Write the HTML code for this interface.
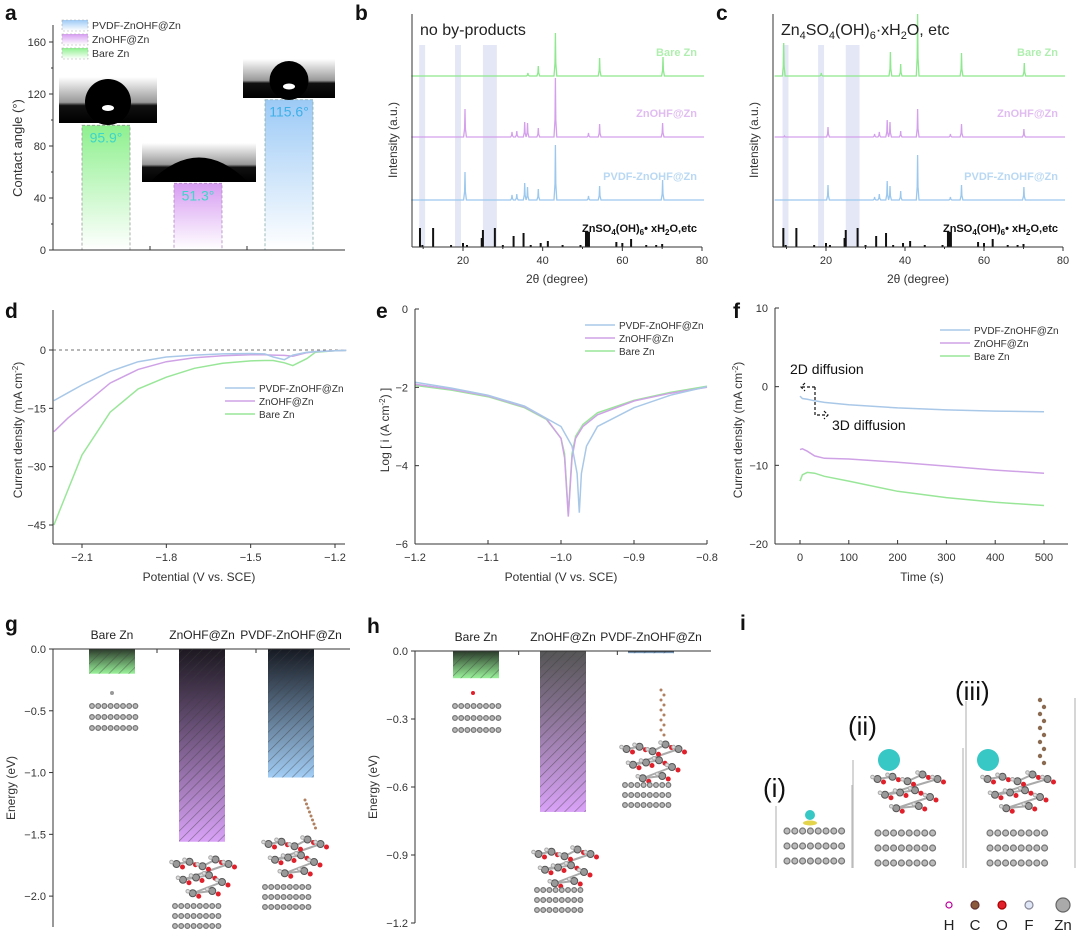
<!DOCTYPE html>
<html><head><meta charset="utf-8"><style>
body{margin:0;background:#fff}
svg{display:block;font-family:"Liberation Sans",sans-serif}
</style></head><body>
<svg id="fig" width="1080" height="938" viewBox="0 0 1080 938" xmlns="http://www.w3.org/2000/svg">
<defs>
<linearGradient id="gGreen" x1="0" y1="1" x2="0" y2="0"><stop offset="0" stop-color="#fff"/><stop offset="1" stop-color="#8ef08e"/></linearGradient>
<linearGradient id="gPurple" x1="0" y1="1" x2="0" y2="0"><stop offset="0" stop-color="#fff"/><stop offset="1" stop-color="#d79cf2"/></linearGradient>
<linearGradient id="gBlue" x1="0" y1="1" x2="0" y2="0"><stop offset="0" stop-color="#fff"/><stop offset="1" stop-color="#9ccaf6"/></linearGradient>
<linearGradient id="photo" x1="0" y1="0" x2="0" y2="1"><stop offset="0" stop-color="#fff"/><stop offset="0.55" stop-color="#999"/><stop offset="0.62" stop-color="#111"/><stop offset="1" stop-color="#000"/></linearGradient>
<linearGradient id="hGreen" x1="0" y1="0" x2="0" y2="1"><stop offset="0" stop-color="#2a3a2a"/><stop offset="1" stop-color="#9af29a"/></linearGradient>
<linearGradient id="hPurple" x1="0" y1="0" x2="0" y2="1"><stop offset="0" stop-color="#1c1820"/><stop offset="1" stop-color="#d9a2f7"/></linearGradient>
<linearGradient id="hBlue" x1="0" y1="0" x2="0" y2="1"><stop offset="0" stop-color="#161a22"/><stop offset="1" stop-color="#a2cdf5"/></linearGradient>
<linearGradient id="hGrayP" x1="0" y1="0" x2="0" y2="1"><stop offset="0" stop-color="#555"/><stop offset="1" stop-color="#d9a2f7"/></linearGradient>
<pattern id="hatch" width="7" height="7" patternUnits="userSpaceOnUse" patternTransform="rotate(45)"><line x1="0" y1="0" x2="0" y2="7" stroke="rgba(60,60,60,0.55)" stroke-width="1.3"/></pattern>
</defs>
</svg>
<script>
// ---------- data ----------
const caCategories = ["Bare Zn","ZnOHF@Zn","PVDF-ZnOHF@Zn"];
const caValues = [95.9, 51.3, 115.6];
const caTicks = [0,40,80,120,160];

const xrdTicks = [20,40,60,80];
const bPeaksBarePos = [36.3,38.9,43.2,54.3,70.2];
const bPeaksBareH = [3,10,43,18,19];
const bPeaksZnPos = [20.5,32.3,33.5,35.5,36.2,38.9,43.2,51.5,54.3,70.1];
const bPeaksZnH = [28,5,6,15,14,9,59,4,13,14];
const bPeaksPvPos = [20.5,32.3,33.5,35.5,36.2,38.9,43.2,51.5,54.3,70.1];
const bPeaksPvH = [28,5,6,17,13,11,55,4,14,20];
const cPeaksBarePos = [9.3,18.8,36.3,38.9,43.2,54.3,70.2];
const cPeaksBareH = [33,3,24,12,62,23,13];
const cPeaksZnPos = [9.5,20.5,32.3,33.5,35.5,36.2,38.9,43.2,51.5,54.3,70.1];
const cPeaksZnH = [1,10,3,5,17,15,6,28,3,13,8];
const cPeaksPvPos = [20.5,32.3,33.5,35.5,36.2,38.9,43.2,51.5,54.3,70.1];
const cPeaksPvH = [15,3,6,19,14,9,45,3,15,13];
const refPos = [9.2,9.8,12.5,17,20,21,24.7,25,28,30,32.7,35.2,37,39.5,41.3,45,49.5,51,51.5,58.5,60,62.2,66,68.5,70];
const refH = [19,2,19,2,4,2,9,17,19,2,11,14,2,4,6,2,2,15,15,5,4,8,2,2,3];

const dPot = [-2.2,-2.15,-2.1,-2.0,-1.9,-1.8,-1.7,-1.6,-1.5,-1.45,-1.42,-1.38,-1.35,-1.3,-1.27,-1.2,-1.16];
const dPvdf = [-13,-11,-9,-5.5,-3,-1.8,-1.3,-1.0,-0.9,-1.0,-1.8,-2.5,-1.3,-0.6,-0.4,-0.2,-0.1];
const dZn = [-21,-17.5,-14.5,-8.5,-5,-3,-2,-1.5,-1.2,-1.2,-1.3,-1.4,-1.6,-0.7,-0.4,-0.2,-0.1];
const dBare = [-45,-36,-27,-16,-10,-7,-4.7,-3.4,-2.8,-2.7,-2.7,-3.3,-4.0,-2.2,-0.6,-0.2,-0.1];
const dXTicks = [-2.1,-1.8,-1.5,-1.2];
const dYTicks = [0,-15,-30,-45];

const ePotA = [-1.2,-1.15,-1.1,-1.05,-1.02,-1.0,-0.995,-0.99,-0.985,-0.98,-0.97,-0.95,-0.9,-0.85,-0.8];
const eZn = [-1.92,-2.05,-2.22,-2.5,-2.8,-3.3,-3.8,-5.3,-3.8,-3.3,-3.0,-2.7,-2.35,-2.15,-2.0];
const eBare = [-1.95,-2.07,-2.24,-2.52,-2.82,-3.3,-3.7,-5.25,-3.7,-3.25,-2.95,-2.65,-2.33,-2.13,-1.97];
const ePotB = [-1.2,-1.15,-1.1,-1.05,-1.0,-0.985,-0.978,-0.975,-0.972,-0.965,-0.95,-0.9,-0.85,-0.8];
const ePvdf = [-1.87,-2.02,-2.2,-2.48,-3.0,-3.5,-4.2,-5.2,-4.2,-3.5,-3.0,-2.52,-2.2,-1.98];
const eXTicks = [-1.2,-1.1,-1.0,-0.9,-0.8];
const eYTicks = [0,-2,-4,-6];

const fTime = [0,5,15,30,50,100,200,300,400,500];
const fPvdf = [-1.2,-1.5,-1.6,-1.8,-2.0,-2.3,-2.7,-2.95,-3.1,-3.2];
const fZn = [-8,-7.9,-8.2,-8.8,-9.1,-9.2,-9.6,-10.1,-10.6,-11];
const fBare = [-12,-11.2,-10.9,-11.0,-11.4,-12,-13.3,-14.1,-14.7,-15.1];
const fXTicks = [0,100,200,300,400,500];
const fYTicks = [10,0,-10,-20];

const gCategories = ["Bare Zn","ZnOHF@Zn","PVDF-ZnOHF@Zn"];
const gValues = [-0.2,-1.56,-1.04];
const gTicks = [0.0,-0.5,-1.0,-1.5,-2.0];
const hValues = [-0.12,-0.71,-0.01];
const hTicks = [0.0,-0.3,-0.6,-0.9,-1.2];

// ---------- helpers ----------
const NS="http://www.w3.org/2000/svg";
const svg=document.getElementById('fig');
function el(tag,attrs,parent,text){const e=document.createElementNS(NS,tag);for(const k in attrs)e.setAttribute(k,attrs[k]);if(text!==undefined)e.textContent=text;(parent||svg).appendChild(e);return e;}
function lin(d0,d1,p0,p1){return v=>p0+(v-d0)*(p1-p0)/(d1-d0);}
function grp(name){const g=el('g',{},svg);return g;}
function txt(p,x,y,s,size,opts){const t=el('text',Object.assign({x:x,y:y,'font-size':size,fill:'#333'},opts||{}),p,s);return t;}
function polyline(p,xs,ys,fx,fy,color,w){const d=xs.map((v,i)=>(i?'L':'M')+fx(v).toFixed(1)+','+fy(ys[i]).toFixed(1)).join('');return el('path',{d:d,fill:'none',stroke:color,'stroke-width':w||1.5},p);}
function label(p,x,y,s){const t=txt(p,x,y,s,21,{'font-weight':'bold',fill:'#111'});}
function atoms(p,x0,y0,cols,rows,dx,dy){for(let r=0;r<rows;r++)for(let c=0;c<cols;c++)el('circle',{cx:x0+c*dx,cy:y0+r*dy,r:dx*0.38,fill:'#bbb',stroke:'#777','stroke-width':1.2},p);}
function molecule(p,x0,y0,w,h){const pts=[[0.1,0.2],[0.3,0.15],[0.5,0.25],[0.7,0.1],[0.9,0.2],[0.2,0.55],[0.4,0.5],[0.6,0.45],[0.8,0.6],[0.35,0.85],[0.65,0.8]];
 for(let i=0;i<pts.length-1;i++)el('line',{x1:x0+pts[i][0]*w,y1:y0+pts[i][1]*h,x2:x0+pts[i+1][0]*w,y2:y0+pts[i+1][1]*h,stroke:'#aaa','stroke-width':2},p);
 pts.forEach((q,i)=>{el('circle',{cx:x0+q[0]*w,cy:y0+q[1]*h,r:3.5,fill:'#999',stroke:'#555'},p);el('circle',{cx:x0+q[0]*w+6,cy:y0+q[1]*h+3,r:2.5,fill:'#e0202a'},p);el('circle',{cx:x0+q[0]*w-5,cy:y0+q[1]*h-2,r:1.8,fill:'#ddd',stroke:'#aaa'},p);});}

// ---------- panel a ----------
(function(){
 const g=grp('panel-a-contact-angle');
 label(g,5,20,'a');
 const X0=53,X1=345,y=lin(0,160,250,42);
 const photos=[[59,77,98,46,0],[142,143,114,39,1],[243,59,92,39,2]];
 const fills=['url(#gGreen)','url(#gPurple)','url(#gBlue)'];
 const strokes=['#999','#b08ac0','#8aa'];
 const bx=[82,174,265];
 caValues.forEach((v,i)=>{const r=el('rect',{x:bx[i],y:y(v),width:48,height:250-y(v),fill:fills[i],stroke:strokes[i],'stroke-dasharray':'3,2','stroke-width':0.8},g);
  
  const t=txt(g,bx[i]+24,y(v)+17,v.toFixed(1)+'°',14,{'text-anchor':'middle',fill:i==2?'#3fb0e8':'#3dd6c8'});
  const ph=photos[i];const pr=el('rect',{x:ph[0],y:ph[1],width:ph[2],height:ph[3],fill:'url(#photo)'},g);
  
  if(i==1){el('path',{d:`M${ph[0]+8},${ph[1]+ph[3]} Q${ph[0]+ph[2]/2},${ph[1]-10} ${ph[0]+ph[2]-8},${ph[1]+ph[3]} Z`,fill:'#000'},g);}
  else{const cx=ph[0]+ph[2]/2,r=ph[3]*0.5;el('circle',{cx:cx,cy:ph[1]+r+2,r:r,fill:'#000'},g);el('ellipse',{cx:cx,cy:ph[1]+r+8,rx:6,ry:3,fill:'#fff'},g);}
 });
 el('line',{x1:X0,y1:25,x2:X0,y2:250,stroke:'#333'},g);
 el('line',{x1:X0,y1:250,x2:X1,y2:250,stroke:'#333'},g);
 [150,247].forEach(x=>el('line',{x1:x,y1:250,x2:x,y2:246,stroke:'#333'},g));
 caTicks.forEach(v=>{el('line',{x1:X0,y1:y(v),x2:X0-4,y2:y(v),stroke:'#333'},g);txt(g,X0-7,y(v)+4,v,11,{'text-anchor':'end'});});
 [20,60,100,140].forEach(v=>el('line',{x1:X0,y1:y(v),x2:X0-2,y2:y(v),stroke:'#333'},g));
 const yt=txt(g,22,148,'Contact angle (°)',13,{'text-anchor':'middle',transform:'rotate(-90 22 148)'});
 const lf=['url(#gBlue)','url(#gPurple)','url(#gGreen)'],ln=['PVDF-ZnOHF@Zn','ZnOHF@Zn','Bare Zn'];
 ln.forEach((s,i)=>{const r=el('rect',{x:62,y:20+i*14,width:26,height:11,fill:lf[i],stroke:'#aaa','stroke-dasharray':'2,2','stroke-width':0.6},g);
  
  const t=txt(g,92,29+i*14,s,10.5);});
})();

// ---------- panels b, c ----------
function xrdPanel(name,letter,X0,X1,x20,x80,series,annot){
 const g=grp(name);label(g,X0-57,20,letter);
 const x=lin(20,80,x20,x80),B=247;
 [[9,10.5],[18,19.5],[25,28.5]].forEach(b=>el('rect',{x:x(b[0]),y:45,width:x(b[1])-x(b[0]),height:B-45,fill:'#e4e8f6'},g));
 series.forEach(s=>{
  const xs=[7],ys=[0];
  s.pos.forEach((p,i)=>{xs.push(p-0.35,p-0.1,p,p+0.1,p+0.35);ys.push(0,s.h[i]*0.3,s.h[i],s.h[i]*0.3,0);});
  xs.push(80.5);ys.push(0);
  const yy=lin(0,1,s.base,s.base-1);
  const pth=polyline(g,xs,ys,x,yy,s.color,1.3);
  const t=txt(g,X1-5,s.base-20,s.label,11,{'text-anchor':'end',fill:s.color,'font-weight':'bold',opacity:0.7});
 });
 refPos.forEach((p,i)=>{const l=el('line',{x1:x(p),y1:B,x2:x(p),y2:B-refH[i],stroke:'#111','stroke-width':p>50&&p<52?3:2},g);});
 const rt=txt(g,X1-5,232,'ZnSO',11,{'text-anchor':'end','font-weight':'bold',fill:'#111'});
 rt.innerHTML='ZnSO<tspan font-size="8" dy="3">4</tspan><tspan dy="-3">(OH)</tspan><tspan font-size="8" dy="3">6</tspan><tspan dy="-3">• xH</tspan><tspan font-size="8" dy="3">2</tspan><tspan dy="-3">O,etc</tspan>';
 
 el('line',{x1:X0,y1:14,x2:X0,y2:B,stroke:'#333'},g);el('line',{x1:X0,y1:B,x2:X1,y2:B,stroke:'#333'},g);
 xrdTicks.forEach(v=>{el('line',{x1:x(v),y1:B,x2:x(v),y2:B+4,stroke:'#333'},g);txt(g,x(v),B+17,v,11,{'text-anchor':'middle'});});
 [10,30,50,70].forEach(v=>el('line',{x1:x(v),y1:B,x2:x(v),y2:B+2,stroke:'#333'},g));
 const xt=txt(g,(X0+X1)/2,B+36,'2θ (degree)',12,{'text-anchor':'middle'});
 const yt=txt(g,X0-15,140,'Intensity (a.u.)',12,{'text-anchor':'middle',transform:`rotate(-90 ${X0-15} 140)`});
 const an=txt(g,X0+8,35,'',16,{fill:'#222'});an.innerHTML=annot;
}
xrdPanel('panel-b-xrd','b',412,702,463,702,[
 {key:'bare-zn',label:'Bare Zn',color:'#8ee88e',base:76,pos:bPeaksBarePos,h:bPeaksBareH},
 {key:'znohf',label:'ZnOHF@Zn',color:'#d4a0ec',base:137,pos:bPeaksZnPos,h:bPeaksZnH},
 {key:'pvdf-znohf',label:'PVDF-ZnOHF@Zn',color:'#9cc8ee',base:200,pos:bPeaksPvPos,h:bPeaksPvH}],'no by-products');
xrdPanel('panel-c-xrd','c',773,1063,826,1063,[
 {key:'bare-zn',label:'Bare Zn',color:'#8ee88e',base:76,pos:cPeaksBarePos,h:cPeaksBareH},
 {key:'znohf',label:'ZnOHF@Zn',color:'#d4a0ec',base:137,pos:cPeaksZnPos,h:cPeaksZnH},
 {key:'pvdf-znohf',label:'PVDF-ZnOHF@Zn',color:'#9cc8ee',base:200,pos:cPeaksPvPos,h:cPeaksPvH}],
 'Zn<tspan font-size="11" dy="4">4</tspan><tspan dy="-4">SO</tspan><tspan font-size="11" dy="4">4</tspan><tspan dy="-4">(OH)</tspan><tspan font-size="11" dy="4">6</tspan><tspan dy="-4">·xH</tspan><tspan font-size="11" dy="4">2</tspan><tspan dy="-4">O, etc</tspan>');

// ---------- line panels ----------
function legend(g,x,y,items){items.forEach((it,i)=>{const l=el('line',{x1:x,y1:y+i*13,x2:x+30,y2:y+i*13,stroke:it[1],'stroke-width':1.5},g);
 const t=txt(g,x+34,y+i*13+4,it[0],10);});}
const LEG=[['PVDF-ZnOHF@Zn','#a9c8e8'],['ZnOHF@Zn','#cfa2e6'],['Bare Zn','#99e699']];

(function(){
 const g=grp('panel-d-lsv');label(g,5,318,'d');
 const X0=53,X1=345,T=310,B=544;
 const x=lin(-2.1,-1.2,82,335),y=lin(0,-45,350,525);
 el('line',{x1:X0,y1:350,x2:X1,y2:350,stroke:'#444','stroke-dasharray':'3,3','stroke-width':0.8},g);
 [[dBare,'#99e699','bare-zn'],[dZn,'#cfa2e6','znohf'],[dPvdf,'#a9c8e8','pvdf-znohf']].forEach(s=>{const p=polyline(g,dPot,s[0],x,y,s[1]);});
 el('line',{x1:X0,y1:T,x2:X0,y2:B,stroke:'#333'},g);el('line',{x1:X0,y1:B,x2:X1,y2:B,stroke:'#333'},g);
 dXTicks.forEach(v=>{el('line',{x1:x(v),y1:B,x2:x(v),y2:B+4,stroke:'#333'},g);txt(g,x(v),B+17,'−'+Math.abs(v).toFixed(1),11,{'text-anchor':'middle'});});
 dYTicks.forEach(v=>{el('line',{x1:X0,y1:y(v),x2:X0-4,y2:y(v),stroke:'#333'},g);txt(g,X0-7,y(v)+4,v<0?'−'+Math.abs(v):v,11,{'text-anchor':'end'});});
 const xt=txt(g,199,581,'Potential (V vs. SCE)',12,{'text-anchor':'middle'});
 const yt=txt(g,22,430,'',12,{'text-anchor':'middle',transform:'rotate(-90 22 430)'});yt.innerHTML='Current density (mA cm<tspan font-size="8" dy="-4">-2</tspan><tspan dy="4">)</tspan>';
 legend(g,225,388,LEG);
})();

(function(){
 const g=grp('panel-e-tafel');label(g,376,318,'e');
 const X0=415,X1=707,T=309,B=544;
 const x=lin(-1.2,-0.8,415,707),y=lin(0,-6,309,544);
 [[eBare,ePotA,'#99e699','bare-zn'],[eZn,ePotA,'#cfa2e6','znohf'],[ePvdf,ePotB,'#a9c8e8','pvdf-znohf']].forEach(s=>{const p=polyline(g,s[1],s[0],x,y,s[2]);});
 el('line',{x1:X0,y1:T,x2:X0,y2:B,stroke:'#333'},g);el('line',{x1:X0,y1:B,x2:X1,y2:B,stroke:'#333'},g);
 eXTicks.forEach(v=>{el('line',{x1:x(v),y1:B,x2:x(v),y2:B-4,stroke:'#333'},g);txt(g,x(v),B+17,'−'+Math.abs(v).toFixed(1),11,{'text-anchor':'middle'});});
 eYTicks.forEach(v=>{el('line',{x1:X0,y1:y(v),x2:X0+4,y2:y(v),stroke:'#333'},g);txt(g,X0-7,y(v)+4,v<0?'−'+Math.abs(v):v,11,{'text-anchor':'end'});});
 const xt=txt(g,561,581,'Potential (V vs. SCE)',12,{'text-anchor':'middle'});
 const yt=txt(g,389,430,'',12,{'text-anchor':'middle',transform:'rotate(-90 389 430)'});yt.innerHTML='Log [ i (A cm<tspan font-size="8" dy="-4">-2</tspan><tspan dy="4">) ]</tspan>';
 legend(g,585,325,LEG);
})();

(function(){
 const g=grp('panel-f-chronoamperometry');label(g,733,318,'f');
 const X0=775,X1=1068,T=308,B=544;
 const x=lin(0,500,800,1044),y=lin(10,-20,308,544);
 [[fBare,'#99e699','bare-zn'],[fZn,'#cfa2e6','znohf'],[fPvdf,'#a9c8e8','pvdf-znohf']].forEach(s=>{const p=polyline(g,fTime,s[0],x,y,s[1]);});
 el('line',{x1:X0,y1:T,x2:X0,y2:B,stroke:'#333'},g);el('line',{x1:X0,y1:B,x2:X1,y2:B,stroke:'#333'},g);
 fXTicks.forEach(v=>{el('line',{x1:x(v),y1:B,x2:x(v),y2:B-4,stroke:'#333'},g);txt(g,x(v),B+17,v,11,{'text-anchor':'middle'});});
 fYTicks.forEach(v=>{el('line',{x1:X0,y1:y(v),x2:X0+4,y2:y(v),stroke:'#333'},g);txt(g,X0-7,y(v)+4,v<0?'−'+Math.abs(v):v,11,{'text-anchor':'end'});});
 const xt=txt(g,922,581,'Time (s)',12,{'text-anchor':'middle'});
 const yt=txt(g,742,430,'',12,{'text-anchor':'middle',transform:'rotate(-90 742 430)'});yt.innerHTML='Current density (mA cm<tspan font-size="8" dy="-4">-2</tspan><tspan dy="4">)</tspan>';
 legend(g,940,330,LEG);
 const a1=txt(g,790,374,'2D diffusion',14,{fill:'#111'});
 const a2=txt(g,832,430,'3D diffusion',14,{fill:'#111'});
 el('path',{d:'M815,387 L801,387 M805,383 L801,387 L805,391 M815,387 L815,415 L828,415 M824,411 L828,415 L824,419',fill:'none',stroke:'#111','stroke-dasharray':'3,2','stroke-width':1.2},g);
})();

// ---------- bar panels g, h ----------
function energyPanel(name,letter,X0,X1,T,B,vmin,ticks,vals,bx,fills,mols){
 const g=grp(name);label(g,X0-48,T-18,letter);
 const y=lin(0,vmin,T,B);
 vals.forEach((v,i)=>{const r=el('rect',{x:bx[i],y:T,width:46,height:Math.max(1,y(v)-T),fill:fills[i]},g);
  
  el('rect',{x:bx[i],y:T,width:46,height:Math.max(1,y(v)-T),fill:'url(#hatch)'},g);
  const t=txt(g,bx[i]+23,T-10,gCategories[i],12,{'text-anchor':'middle',fill:'#222'});
 });
 mols(g,y);
 el('line',{x1:X0,y1:T,x2:X0,y2:B,stroke:'#333'},g);el('line',{x1:X0,y1:T,x2:X1,y2:T,stroke:'#333'},g);
 [ (X0*2+X1)/3+5, (X0+X1*2)/3+5].forEach(x=>el('line',{x1:x,y1:T,x2:x,y2:T+4,stroke:'#333'},g));
 ticks.forEach(v=>{el('line',{x1:X0,y1:y(v),x2:X0-4,y2:y(v),stroke:'#333'},g);txt(g,X0-7,y(v)+4,v<0?'−'+Math.abs(v).toFixed(1):v.toFixed(1),11,{'text-anchor':'end'});});
 const yt=txt(g,X0-38,(T+B)/2,'Energy (eV)',12,{'text-anchor':'middle',transform:`rotate(-90 ${X0-38} ${(T+B)/2})`});
}
energyPanel('panel-g-adsorption-energy','g',53,350,649,927,-2.25,gTicks,gValues,[89,179,268],['url(#hGreen)','url(#hPurple)','url(#hBlue)'],(g,y)=>{
 el('circle',{cx:112,cy:693,r:2,fill:'#999'},g);atoms(g,92,706,8,3,6.2,11);
 molecule(g,170,855,65,45);atoms(g,175,906,8,3,6.2,10);
 molecule(g,262,835,65,45);for(let i=0;i<8;i++)el('circle',{cx:305+i*1.5,cy:800+i*4,r:1.5,fill:'#b08060'},g);atoms(g,265,887,8,3,6.2,10);
});
energyPanel('panel-h-adsorption-energy','h',415,711,651,923,-1.2,hTicks,hValues,[453,540,628],['url(#hGreen)','url(#hGrayP)','url(#hBlue)'],(g,y)=>{
 el('circle',{cx:473,cy:693,r:2,fill:'#e0202a'},g);atoms(g,455,706,8,3,6.2,12);
 molecule(g,532,845,65,45);atoms(g,537,890,8,3,6.2,10);
 molecule(g,620,740,65,45);for(let i=0;i<10;i++)el('circle',{cx:661+(i%2)*3,cy:690+i*5,r:1.5,fill:'#b08060'},g);atoms(g,625,785,8,3,6.2,10);
});

// ---------- panel i ----------
(function(){
 const g=grp('panel-i-charge-density');label(g,740,630,'i');
 const t1=txt(g,763,797,'(i)',26,{fill:'#111'});const t2=txt(g,848,735,'(ii)',26,{fill:'#111'});const t3=txt(g,955,700,'(iii)',26,{fill:'#111'});
 [t1,t2,t3].forEach(t=>{});
 [[776,806,868],[853,760,868],[966,701,868],[963,748,868],[1075,698,868],[852,785,868]].forEach(l=>el('line',{x1:l[0],y1:l[1],x2:l[0],y2:l[2],stroke:'#bbb','stroke-width':1.2},g));
 el('circle',{cx:810,cy:815,r:5,fill:'#37c7c5'},g);el('ellipse',{cx:810,cy:823,rx:7,ry:2.5,fill:'#e3d44c'},g);
 atoms(g,787,831,8,3,7.8,15);
 el('circle',{cx:889,cy:760,r:11,fill:'#37c7c5'},g);el('circle',{cx:988,cy:760,r:11,fill:'#37c7c5'},g);
 molecule(g,870,770,75,45);atoms(g,878,833,8,3,7.8,15);
 molecule(g,980,770,75,45);for(let i=0;i<10;i++)el('circle',{cx:1040+(i%2)*4,cy:700+i*7,r:2.2,fill:'#8a6a50'},g);atoms(g,990,833,8,3,7.8,15);
 const lg=[['H','#fff','#b09',3],['C','#8b5a3c','#633',4],['O','#e0202a','#a00',4],['F','#dfe6f5','#889',4],['Zn','#aaa','#666',7]];
 const lx=[949,975,1002,1029,1063];
 lg.forEach((a,i)=>{el('circle',{cx:lx[i],cy:905,r:a[3],fill:a[1],stroke:a[2],'stroke-width':1.2},g);const t=txt(g,lx[i],930,a[0],15,{'text-anchor':'middle',fill:'#222'});});
})();
</script>
</body></html>
